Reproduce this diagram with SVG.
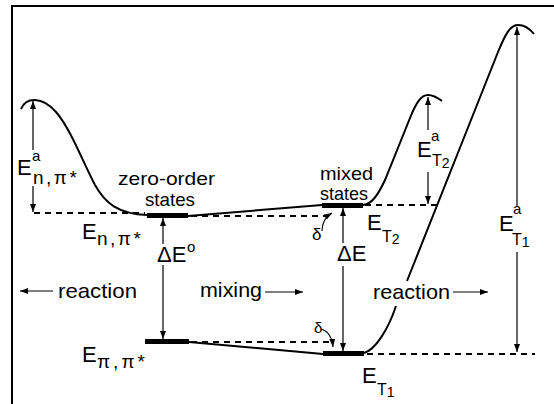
<svg xmlns="http://www.w3.org/2000/svg" width="554" height="404" viewBox="0 0 554 404">
<defs>
<marker id="ah" viewBox="0 0 8 6" refX="8" refY="3" markerWidth="8" markerHeight="6" markerUnits="userSpaceOnUse" orient="auto-start-reverse">
<path d="M0,0 L8,3 L0,6 z" fill="#000"/>
</marker>
<style>
text{font-family:"Liberation Sans","DejaVu Sans",sans-serif;fill:#000}
.lbl{font-size:21px}
.st{font-size:19px}
.E{font-size:22px}
.sup{font-size:15px}
.sub{font-size:19px;letter-spacing:2.5px}
.ts{font-size:16px}
.tn{font-size:14px}
.curve{fill:none;stroke:#000;stroke-width:2}
.dash{fill:none;stroke:#000;stroke-width:2;stroke-dasharray:6,5}
.thin{fill:none;stroke:#000;stroke-width:1.2}
.bar{fill:#000}
</style>
</defs>
<rect width="554" height="404" fill="#fff"/>
<path d="M12,404 L12,6 L554,6" fill="none" stroke="#000" stroke-width="2"/>

<g id="connectors">
<path class="curve" d="M21,109 C26,97 42,96 56,112 C70,128 82,160 95,185 C105,203 118,214 147,215"/>
<path class="dash" d="M34,213 L145,213"/>
<path class="curve" d="M188,216 L322,205"/>
<path class="dash" d="M191,216 L330,216"/>
<path class="thin" d="M322,231 C322,222 327,216 332,213" marker-end="url(#ah)"/>
<path class="curve" d="M189,342 L323,354"/>
<path class="dash" d="M191,342 L330,342"/>
<path class="thin" d="M321,329 C328,331 332,337 333,347" marker-end="url(#ah)"/>
<path class="curve" d="M363,205 C372,204 378,195 385,180 L410,118 C416,103 421,95 428,95 C434,95 438,98 442,101"/>
<path class="dash" d="M365,205 L437,205"/>
<path class="curve" d="M364,353 C375,350 388,330 396,306"/>
<path class="curve" d="M407,281 L498,52 C505,35 510,25 518,25 C525,25 530,29 534,34"/>
<path class="dash" d="M367,354 L535,354"/>
<path class="thin" d="M33,150 L33,101" marker-end="url(#ah)"/>
<path class="thin" d="M33,186 L33,212" marker-end="url(#ah)"/>
<path class="thin" d="M163,244 L163,218" marker-end="url(#ah)"/>
<path class="thin" d="M163,265 L163,339" marker-end="url(#ah)"/>
<path class="thin" d="M343,243 L343,208" marker-end="url(#ah)"/>
<path class="thin" d="M343,266 L343,351" marker-end="url(#ah)"/>
<path class="thin" d="M428,130 L428,97" marker-end="url(#ah)"/>
<path class="thin" d="M428,172 L428,204" marker-end="url(#ah)"/>
<path class="thin" d="M517,206 L517,27" marker-end="url(#ah)"/>
<path class="thin" d="M517,252 L517,352" marker-end="url(#ah)"/>
<path class="thin" d="M53,291 L20,291" marker-end="url(#ah)"/>
<path class="thin" d="M265,292 L303,292" marker-end="url(#ah)"/>
<path class="thin" d="M453,292 L488,292" marker-end="url(#ah)"/>
</g>

<g id="zero-order-upper">
<rect class="bar" x="147" y="213" width="41" height="5"/>
<text class="st" x="118" y="185" textLength="97" lengthAdjust="spacingAndGlyphs">zero-order</text>
<text class="st" x="145" y="206" textLength="50" lengthAdjust="spacingAndGlyphs">states</text>
</g>
<g id="zero-order-lower">
<rect class="bar" x="145" y="339" width="44" height="5"/>
</g>
<g id="mixed-upper">
<rect class="bar" x="322" y="203" width="41" height="5"/>
<text class="st" x="320" y="180" textLength="53" lengthAdjust="spacingAndGlyphs">mixed</text>
<text class="st" x="320" y="200" textLength="48" lengthAdjust="spacingAndGlyphs">states</text>
</g>
<g id="mixed-lower">
<rect class="bar" x="323" y="351" width="41" height="5"/>
</g>

<g id="labels">
<text x="17" y="175"><tspan class="E">E</tspan><tspan class="sup" x="32" y="161">a</tspan><tspan class="sub" x="33" y="184">n,π*</tspan></text>

<text x="82" y="239"><tspan class="E">E</tspan><tspan class="sub" x="97" y="245">n,π*</tspan></text>

<text x="82" y="362"><tspan class="E">E</tspan><tspan class="sub" x="97" y="368" style="letter-spacing:3px">π,π*</tspan></text>

<text x="157" y="262"><tspan class="E">ΔE</tspan><tspan class="sup" x="187" y="252">o</tspan></text>

<text x="337" y="261" class="E">ΔE</text>

<text x="367" y="230"><tspan class="E">E</tspan><tspan class="ts" x="382" y="242">T</tspan><tspan class="tn" dy="2">2</tspan></text>

<text x="362" y="383"><tspan class="E">E</tspan><tspan class="ts" x="377" y="395">T</tspan><tspan class="tn" dy="2">1</tspan></text>

<text x="417" y="157"><tspan class="E">E</tspan><tspan class="sup" x="431" y="141">a</tspan><tspan class="ts" x="432" y="166">T</tspan><tspan class="tn" dy="2">2</tspan></text>

<text x="499" y="231"><tspan class="E">E</tspan><tspan class="sup" x="513" y="214">a</tspan><tspan class="ts" x="512" y="245">T</tspan><tspan class="tn" dy="2">1</tspan></text>

<text class="lbl" x="58" y="298" textLength="79" lengthAdjust="spacingAndGlyphs">reaction</text>
<text class="lbl" x="200" y="297" textLength="62" lengthAdjust="spacingAndGlyphs">mixing</text>
<text class="lbl" x="373" y="299" textLength="77" lengthAdjust="spacingAndGlyphs">reaction</text>
<text x="312" y="240" font-size="17">δ</text>
<text x="314" y="333" font-size="15">δ</text>
</g>
</svg>
